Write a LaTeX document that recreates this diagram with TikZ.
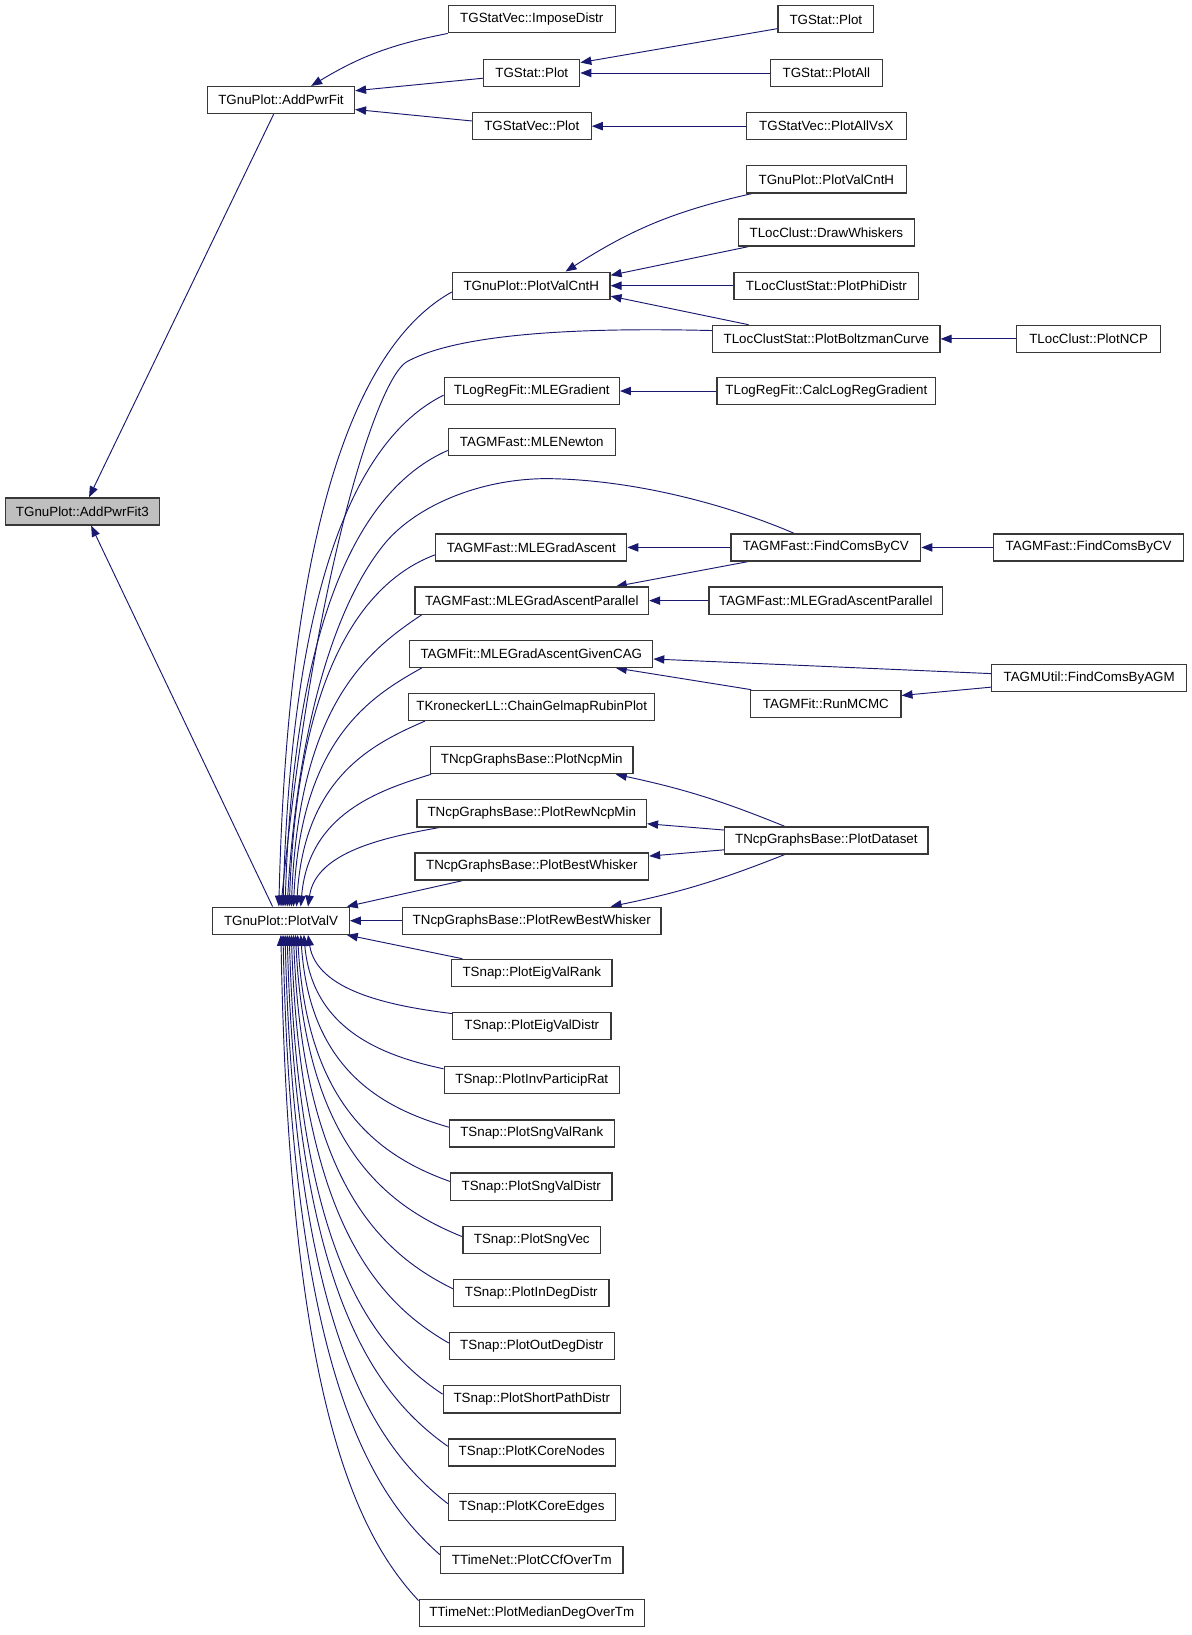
\documentclass[tikz,border=0pt]{standalone}
\usepackage{fontspec}
\setmainfont{Liberation Sans}
\usetikzlibrary{arrows.meta,calc}
\definecolor{edgec}{HTML}{191970}
\definecolor{boxc}{HTML}{383838}
\definecolor{hl}{HTML}{BFBFBF}
\pgfdeclarelayer{background}
\pgfsetlayers{background,main}
\newcommand\nd[5]{\node[box, minimum width=#4pt] (#1) at (#2,-#3) {#5};}
\newcommand\upE[5]{\draw[lnk] let \p1=(#1), \p2=([xshift=#2pt]pv.north west), \n1={\x1-\x2}, \n2={\y1-\y2} in (\p1) .. controls ({\x1-#3*\n1},{\y1-#4*\n2}) and ({\x2+0.06*\n1},{\y2+#5*\n2}) .. (\p2);}
\newcommand\loE[5]{\draw[lnk] let \p1=(#1), \p2=([xshift=#2pt]pv.south west), \n1={\x1-\x2}, \n2={\y2-\y1} in (\p1) .. controls ({\x1-#3*\n1},{\y1+#4*\n2}) and ({\x2+0.06*\n1},{\y2-#5*\n2}) .. (\p2);}
\begin{document}
\begin{tikzpicture}[x=1pt,y=1pt,
  box/.style={draw=boxc, line width=1.2pt, fill=white, minimum height=26pt, inner xsep=2pt, inner ysep=0pt, font=\fontsize{12.8}{14}\selectfont},
  lnk/.style={draw=edgec, line width=0.9pt, -{Triangle[length=10.5pt,width=8pt,fill=edgec]}}]
\useasboundingbox (0,0) rectangle (1143,-1568);
\begin{pgfonlayer}{background}
\fill[white] (0,0) rectangle (1143,-1568);
\end{pgfonlayer}
% nodes
\node[box, fill=hl, minimum width=148pt] (n3) at (79,-490.5) {TGnuPlot::AddPwrFit3};
\nd{apf}{269.5}{96}{141}{TGnuPlot::AddPwrFit}
\nd{pv}{269.5}{883}{131}{TGnuPlot::PlotValV}
\nd{imp}{510}{18.5}{160}{TGStatVec::ImposeDistr}
\nd{tgp}{510}{70}{92}{TGStat::Plot}
\nd{tgvp}{510}{121}{114}{TGStatVec::Plot}
\nd{pvc}{509.5}{274}{151}{TGnuPlot::PlotValCntH}
\nd{mleg}{510}{375}{168}{TLogRegFit::MLEGradient}
\nd{mlen}{510}{424}{160}{TAGMFast::MLENewton}
\nd{mlega}{509.5}{525}{183}{TAGMFast::MLEGradAscent}
\nd{par}{510}{576}{224}{TAGMFast::MLEGradAscentParallel}
\nd{gc}{509.5}{627}{233}{TAGMFit::MLEGradAscentGivenCAG}
\nd{kron}{510}{678}{236}{TKroneckerLL::ChainGelmapRubinPlot}
\nd{pnm}{510}{729}{194}{TNcpGraphsBase::PlotNcpMin}
\nd{prnm}{510}{780}{220}{TNcpGraphsBase::PlotRewNcpMin}
\nd{pbw}{510}{831}{224}{TNcpGraphsBase::PlotBestWhisker}
\nd{prbw}{510}{883}{248}{TNcpGraphsBase::PlotRewBestWhisker}
\nd{evr}{510}{933}{154}{TSnap::PlotEigValRank}
\nd{evd}{510}{984}{152}{TSnap::PlotEigValDistr}
\nd{ipr}{510}{1036}{168}{TSnap::PlotInvParticipRat}
\nd{svr}{510}{1087}{158}{TSnap::PlotSngValRank}
\nd{svd}{509.5}{1138}{155}{TSnap::PlotSngValDistr}
\nd{sv}{510}{1189}{132}{TSnap::PlotSngVec}
\nd{ind}{509.5}{1240}{149}{TSnap::PlotInDegDistr}
\nd{outd}{510}{1291}{158}{TSnap::PlotOutDegDistr}
\nd{spd}{510}{1342}{170}{TSnap::PlotShortPathDistr}
\nd{kcn}{510}{1393}{160}{TSnap::PlotKCoreNodes}
\nd{kce}{510}{1445}{160}{TSnap::PlotKCoreEdges}
\nd{ccf}{510}{1496}{175}{TTimeNet::PlotCCfOverTm}
\nd{mdo}{510}{1547}{216}{TTimeNet::PlotMedianDegOverTm}
\nd{tgpr}{792}{18.5}{92}{TGStat::Plot}
\nd{tgpa}{792.5}{70}{107}{TGStat::PlotAll}
\nd{avx}{792.5}{121}{153}{TGStatVec::PlotAllVsX}
\nd{pvcr}{792.5}{172}{153}{TGnuPlot::PlotValCntH}
\nd{dw}{792.5}{223}{169}{TLocClust::DrawWhiskers}
\nd{phi}{792.5}{274}{177}{TLocClustStat::PlotPhiDistr}
\nd{bz}{792.5}{325}{218}{TLocClustStat::PlotBoltzmanCurve}
\nd{calc}{792.5}{375}{210}{TLogRegFit::CalcLogRegGradient}
\nd{fcv}{792}{525}{182}{TAGMFast::FindComsByCV}
\nd{parr}{792}{576}{224}{TAGMFast::MLEGradAscentParallel}
\nd{mcmc}{792}{675}{144}{TAGMFit::RunMCMC}
\nd{pd}{792.5}{806}{195}{TNcpGraphsBase::PlotDataset}
\nd{ncp}{1044}{325}{138}{TLocClust::PlotNCP}
\nd{fcvr}{1044}{525}{182}{TAGMFast::FindComsByCV}
\nd{agm}{1044.5}{650}{187}{TAGMUtil::FindComsByAGM}
% edges
\begin{pgfonlayer}{background}
\draw[lnk] (imp.south west) to[bend right=10] ([xshift=100pt]apf.north west);
\draw[lnk] ([yshift=-5pt]tgp.west) -- ([yshift=9pt]apf.east);
\draw[lnk] ([yshift=5pt]tgvp.west) -- ([yshift=-9pt]apf.east);
\draw[lnk] ([yshift=-9pt]tgpr.west) -- ([yshift=10pt]tgp.east);
\draw[lnk] (tgpa.west) -- (tgp.east);
\draw[lnk] (avx.west) -- (tgvp.east);
\draw[lnk] ([xshift=64pt]apf.south west) -- ([xshift=81pt]n3.north west);
\draw[lnk] ([xshift=58pt]pv.north west) -- ([xshift=83pt]n3.south west);
\draw[lnk] ([xshift=6pt]pvcr.south west) to[bend right=10] ([xshift=109pt]pvc.north west);
\draw[lnk] ([xshift=10pt]dw.south west) -- ([yshift=10pt]pvc.east);
\draw[lnk] (phi.west) -- (pvc.east);
\draw[lnk] ([xshift=35pt]bz.north west) -- ([yshift=-10pt]pvc.east);
\draw[lnk] (ncp.west) -- (bz.east);
\draw[lnk] (calc.west) -- (mleg.east);
\draw[lnk] (fcvr.west) -- (fcv.east);
\draw[lnk] (fcv.west) -- (mlega.east);
\draw[lnk] ([xshift=17pt]fcv.south west) -- ([xshift=-32pt]par.north east);
\draw[lnk] (parr.west) -- (par.east);
\draw[lnk] ([yshift=4pt]agm.west) -- ([yshift=-5pt]gc.east);
\draw[lnk] ([yshift=-9pt]agm.west) -- ([yshift=8pt]mcmc.east);
\draw[lnk] ([xshift=1pt]mcmc.north west) -- ([xshift=-36pt]gc.south east);
\draw[lnk] ([xshift=58pt]pd.north west) to[bend right=5] ([xshift=-17pt]pnm.south east);
\draw[lnk] ([yshift=10pt]pd.west) -- ([yshift=-10pt]prnm.east);
\draw[lnk] ([yshift=-9pt]pd.west) -- ([yshift=10pt]pbw.east);
\draw[lnk] ([xshift=58pt]pd.south west) to[bend left=5] ([xshift=-49pt]prbw.north east);
% callers of PlotValV (above)
\upE{[yshift=-6pt]pvc.west}{64}{0.45}{0.07}{0.7}
\draw[lnk] ([yshift=8pt]bz.west) .. controls (520,-313) and (430,-325) .. (390,-347) .. controls (360,-365) and (300,-560) .. ([xshift=66pt]pv.north west);
\upE{[yshift=-4pt]mleg.west}{68}{0.45}{0.07}{0.7}
\upE{[yshift=-8pt]mlen.west}{70}{0.45}{0.07}{0.7}
\draw[lnk] ([xshift=61pt]fcv.north west) .. controls (700,-485) and (610,-460) .. (525,-459) .. controls (460,-459) and (400,-485) .. (370,-520) .. controls (320,-580) and (285,-700) .. ([xshift=72pt]pv.north west);
\upE{[yshift=-7pt]mlega.west}{74}{0.45}{0.07}{0.7}
\upE{[xshift=7pt]par.south west}{76}{0.4}{0.12}{0.7}
\upE{[xshift=12pt]gc.south west}{78}{0.4}{0.12}{0.7}
\upE{[xshift=16pt]kron.south west}{81}{0.4}{0.12}{0.7}
\upE{[xshift=1pt]pnm.south west}{85}{0.4}{0.12}{0.7}
\upE{[xshift=22pt]prnm.south west}{92}{0.4}{0.12}{0.7}
\draw[lnk] ([xshift=46pt]pbw.south west) -- ([xshift=-3pt]pv.north east);
\draw[lnk] (prbw.west) -- (pv.east);
% callers of PlotValV (below)
\draw[lnk] ([xshift=11pt]evr.north west) -- ([xshift=-3pt]pv.south east);
\loE{[yshift=12pt]evd.west}{92}{0.45}{0.1}{0.7}
\loE{[yshift=11pt]ipr.west}{88}{0.45}{0.1}{0.7}
\loE{[yshift=6pt]svr.west}{85}{0.45}{0.1}{0.7}
\loE{[yshift=5pt]svd.west}{82}{0.45}{0.1}{0.7}
\loE{[yshift=3pt]sv.west}{80}{0.45}{0.1}{0.7}
\loE{[yshift=4pt]ind.west}{78}{0.45}{0.1}{0.7}
\loE{[yshift=3pt]outd.west}{76}{0.45}{0.1}{0.7}
\loE{[yshift=5pt]spd.west}{74}{0.45}{0.1}{0.7}
\loE{[yshift=6pt]kcn.west}{72}{0.45}{0.1}{0.7}
\loE{[yshift=3pt]kce.west}{70}{0.45}{0.1}{0.7}
\loE{[yshift=5pt]ccf.west}{68}{0.45}{0.1}{0.7}
\loE{[yshift=12pt]mdo.west}{66}{0.45}{0.1}{0.7}
\end{pgfonlayer}
\end{tikzpicture}
\end{document}
